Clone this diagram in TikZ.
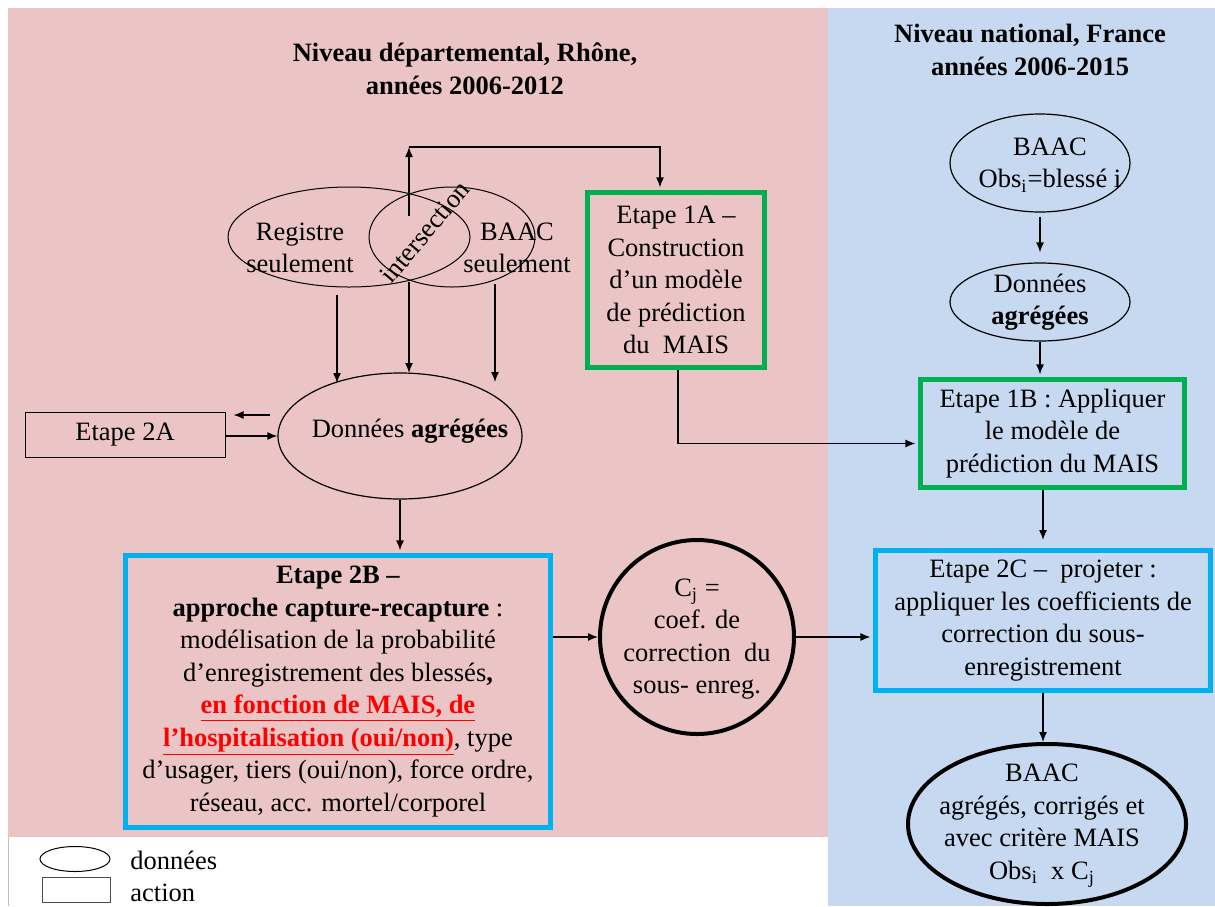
\documentclass[tikz,border=0pt]{standalone}
\usepackage{fontspec}
\setmainfont{Liberation Serif}
\usepackage{tikz}
\usetikzlibrary{shapes.geometric,arrows.meta}
\definecolor{pinkbg}{HTML}{EBC5C5}
\definecolor{bluebg}{HTML}{C6D9F0}
\definecolor{stepgreen}{HTML}{00B050}
\definecolor{stepcyan}{HTML}{00B0F0}

\begin{document}
\begin{tikzpicture}
 [x=0.5pt,y=-0.5pt,
  every node/.style={font=\fontsize{13.25}{16.25}\selectfont,align=center,inner sep=0pt},
  data/.style={ellipse,draw,line width=0.6pt},
  stepa/.style={draw=stepgreen,line width=2.5pt},
  stepb/.style={draw=stepcyan,line width=2.5pt},
  arr/.style={-{Latex[length=5pt,width=4pt]},line width=0.7pt},
  arrb/.style={arr,shorten >=1.3pt}]
 \useasboundingbox (0,0) rectangle (1215,906);
 \fill[white] (0,0) rectangle (1215,906);
 \fill[pinkbg] (8,8) rectangle (828,837);
 \fill[bluebg] (828,8) rectangle (1215,906);
 \draw[gray!50] (8,837) -- (8,906);

 \node[font=\fontsize{13.25}{16.25}\selectfont\bfseries] (titleL) at (465,69) {Niveau départemental, Rhône,\\années 2006-2012};
 \node[font=\fontsize{13.25}{16.25}\selectfont\bfseries] (titleR) at (1030,50) {Niveau national, France\\années 2006-2015};

 \node[data,line width=0.5pt,minimum width=121pt,minimum height=50pt] (reg) at (349,237) {};
 \node[data,line width=0.5pt,minimum width=83pt,minimum height=50pt] (baacL) at (452,237) {};
 \node (regtxt) at (300,248) {Registre\\seulement};
 \node (baacLtxt) at (517,248) {BAAC\\seulement};
 \node[rotate=50] (inter) at (425,232) {intersection};

 \node[data,minimum width=122pt,minimum height=63pt] (dagr) at (400,436) {};
 \node (dagrtxt) at (410,431) {Données \textbf{agrégées}};
 \node[draw,line width=0.5pt,minimum width=100pt,minimum height=22.5pt] (e2a) at (125,434.5) {Etape 2A};

 \node[stepa,minimum width=88.5pt,minimum height=87.5pt] (e1a) at (676,280)
  {Etape 1A –\\Construction\\d’un modèle\\de prédiction\\du~~MAIS};

 \node[stepb,minimum width=212.5pt,minimum height=136pt] (e2b) at (338,691.5)
  {\textbf{Etape 2B –}\\
   \textbf{approche capture-recapture} :\\
   modélisation de la probabilité\\
   d’enregistrement des blessés\textbf{,}\\
   \textcolor{red}{\textbf{\underline{en fonction de MAIS, de}}}\\
   \textcolor{red}{\textbf{\underline{l’hospitalisation (oui/non)}}}, type\\
   d’usager, tiers (oui/non), force ordre,\\
   réseau, acc. mortel/corporel};

 \node[circle,draw,line width=2pt,minimum size=97pt] (circ) at (697,637) {};
 \node (circtxt) at (697,639) {C\textsubscript{j} =\\coef. de\\correction~~du\\sous- enreg.};

 \node[data,minimum width=90pt,minimum height=49pt] (baac) at (1040,163) {};
 \node (baactxt) at (1050,165) {BAAC\\Obs\textsubscript{i}=blessé i};
 \node[data,minimum width=90pt,minimum height=39pt] (dnat) at (1040,302) {};
 \node (dnattxt) at (1040,302) {Données\\\textbf{agrégées}};

 \node[stepa,minimum width=132pt,minimum height=54pt] (e1b) at (1052.5,433.5)
  {Etape 1B : Appliquer\\le modèle de\\prédiction du MAIS};
 \node[stepb,minimum width=167.5pt,minimum height=70pt] (e2c) at (1043,620.5)
  {Etape 2C –~~projeter :\\appliquer les coefficients de\\correction du sous-\\enregistrement};
 \node[data,line width=2pt,minimum width=139pt,minimum height=80pt] (fin) at (1047,824) {};
 \node (fintxt) at (1042,826) {BAAC\\agrégés, corrigés et\\avec critère MAIS\\Obs\textsubscript{i}~~x C\textsubscript{j}};

 \node[data,line width=0.5pt,minimum width=35pt,minimum height=12.5pt] (legdata) at (75,859) {};
 \node[draw,black!70,line width=0.5pt,minimum width=34pt,minimum height=12.5pt] (legact) at (76,889.5) {};
 \node[anchor=west] (legdatatxt) at (130,860) {données};
 \node[anchor=west] (legacttxt) at (130,893) {action};

 \coordinate (intup) at (409,216);
 \coordinate (topturn) at (409,147);
 \draw[arr] (intup) -- (topturn);
 \draw[arrb] (topturn) -| ([xshift=-8pt]e1a.north);
 \foreach \n/\x/\ya/\yb in {l/337/295/383,m/409/282/373,r/495/284/382}
  {\coordinate (v\n) at (\x,\ya); \coordinate (w\n) at (\x,\yb); \draw[arr] (v\n) -- (w\n);}
 \coordinate (back) at (270,415);
 \draw[arr,shorten >=4pt] (back) -- (back -| e2a.east);
 \draw[arr] (dagr.west -| e2a.east) -- (dagr.west);
 \draw[arrb] (dagr.south) -- (dagr.south |- e2b.north);
 \draw[arr] (circ.west -| e2b.east) -- (circ.west);
 \draw[arrb] (circ.east) -- (circ.east -| e2c.west);
 \draw[arrb] ([xshift=1pt]e1a.south) |- ([yshift=-5pt]e1b.west);
 \draw[arr,shorten <=2pt,shorten >=5pt] (baac.south) -- (dnat.north);
 \draw[arrb] (dnat.south) -- (dnat.south |- e1b.north);
 \draw[arr,shorten >=4pt] (e1b.south -| e2c.north) -- (e2c.north);
 \draw[arr] (e2c.south) -- (e2c.south |- fin.north);
\end{tikzpicture}
\end{document}
